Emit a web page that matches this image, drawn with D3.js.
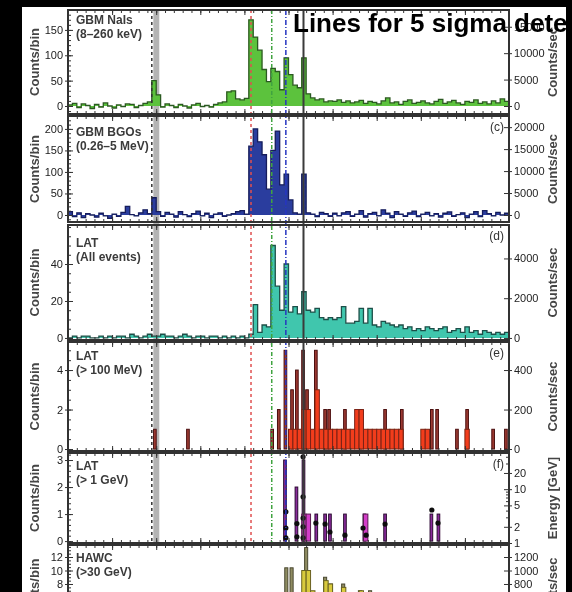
<!DOCTYPE html>
<html>
<head>
<meta charset="utf-8">
<script src="https://cdn.jsdelivr.net/npm/d3@7"></script>
<style>
  html, body { margin: 0; padding: 0; background: #000; }
  svg { display: block; }
</style>
</head>
<body>
<div id="chart"></div>
<script>
// 1 s bins, first bin starts at t = -20 s
const binStart = -20;

const naiCounts = [
  2, 5, -3, 4, 1, -5, 3, -2, 6, 0,
  -4, 2, -1, 4, 3, -3, 1, 5, 8, 50,
  22, -2, 4, 1, -3, 3, 0, -4, 2, 5,
  -1, 1, -2, 3, 6, 8, 28, 30, 14, 12,
  15, 170, 136, 110, 72, 48, 74, 68, 32, 95,
  62, 41, 36, 95, 24, 16, 12, 14, 8, 10,
  9, 12, 7, 10, 6, 8, 11, 5, 9, 7,
  4, 10, 16, 6, 8, 3, 9, 12, 5, 7,
  10, 6, 4, 9, 13, 5, 8, 11, 6, 3,
  9, 7, 12, 5, 8, 4, 10, 6, 14, 9
];

const bgoCounts = [
  8, -4, 5, -6, 3, 0, -5, 4, -2, -8,
  2, -3, 6, 20, 1, -2, 5, 12, 3, 40,
  8, -3, 6, 2, -5, 8, 1, -4, 3, 9,
  -2, 4, -6, 2, 5, -3, 0, 3, 8, 10,
  2, 160, 200, 170, 140, 60, 150, 195, 70, 95,
  35, 5, 2, 95, 5, 2, -4, 6, 3, -3,
  4, -2, 5, 8, -3, 2, 10, -5, 3, 6,
  -2, 12, 4, -6, 8, 2, -3, 5, 9, -4,
  2, 6, -2, 3, -5, 4, 7, -3, 1, 5,
  -6, 2, 8, -4, 10, 3, -2, 6, 0, 4
];

const latAllCounts = [
  0, 1, 0, 1, 1, 0, 0, 1, 0, 1,
  0, 1, 1, 0, 2, 1, 0, 1, 2, 1,
  1, 2, 1, 1, 0, 1, 2, 1, 0, 1,
  1, 0, 1, 1, 0, 1, 0, 1, 0, 1,
  0, 2, 18, 3, 7, 6, 50, 28, 15, 40,
  14, 17, 13, 25, 15, 14, 16, 11, 10, 11,
  10, 11, 17, 8, 8, 9, 16, 8, 16, 7,
  6, 9, 8, 7, 6, 7, 5, 6, 4, 5,
  4, 6, 5, 4, 5, 6, 3, 4, 5, 3,
  6, 3, 4, 2, 4, 3, 2, 3, 2, 3
];

// LAT > 100 MeV: narrow bins (dark) and 1 s bins (red)
const lat100SpikeTimes = [-0.3, 7.2, 26.3, 27.8, 29.3, 30.8, 31.9, 33.3, 34.2, 36.2, 38.3, 39.2, 42.8, 46.4, 51.9, 55.7, 62.5, 63.7, 68.2, 70.5, 76.4, 79.3];
const lat100SpikeCounts = [1, 1, 1, 2, 5, 3, 4, 5, 3, 5, 2, 2, 2, 2, 2, 2, 2, 2, 1, 2, 1, 1];
const lat100BinTimes = [30, 31, 32, 33, 34, 35, 36, 37, 38, 39, 40, 41, 42, 43, 44, 45, 46, 47, 48, 49, 50, 51, 52, 53, 54, 55, 60, 61, 70];
const lat100BinCounts = [1, 1, 1, 2, 2, 1, 3, 1, 1, 1, 1, 1, 1, 1, 1, 2, 2, 1, 1, 1, 1, 1, 1, 1, 1, 1, 1, 1, 1];

// LAT > 1 GeV
const lat1SpikeTimes = [29.2, 31.8, 33.4, 36.3, 38.3, 39.4, 42.8, 47.2, 51.9, 62.4, 64.0];
const lat1SpikeCounts = [3, 2, 3, 1, 1, 1, 1, 1, 1, 1, 1];
const lat1BinTimes = [33, 34, 47];
const lat1BinCounts = [1, 1, 1];
const photonTimes = [29.4, 29.4, 29.4, 31.9, 31.9, 33.3, 33.3, 33.3, 33.3, 33.3, 36.2, 38.3, 39.4, 42.8, 46.9, 47.6, 51.9, 62.5, 63.9];
const photonEnergies = [3.8, 1.9, 1.25, 2.3, 1.3, 40, 7.2, 2.9, 2.0, 1.25, 2.35, 2.25, 1.6, 1.4, 1.9, 1.4, 2.25, 4.1, 2.35];

// HAWC
const hawcSpikeTimes = [29.5, 30.7, 34.0, 38.3, 39.6, 42.4, 46.2, 48.5];
const hawcSpikeCounts = [10.4, 10.4, 13.4, 9, 8, 8, 7, 7];
const hawcBinTimes = [33, 34, 35, 38, 39, 42, 46, 47, 48];
const hawcBinCounts = [10, 10, 7, 8.5, 8, 7.5, 7, 6.5, 6.5];

// trigger, 5 sigma lines
const markerTimes = [-1.0, 21.5, 26.2, 29.4, 33.4];
const markerColors = ['#333', '#e05050', '#3fa33f', '#2636c0', '#3a3a3a'];
const markerDash = ['3,3', '3,3', '4,2,1,2', '5,2,1,2', null];
const triggerBand = [-0.65, 0.7];

const W = 572, H = 592;
const x0 = 68, x1 = 509;
const font = 'Liberation Sans, Arial, sans-serif';
const fmt = d3.format('d');
const x = d3.scaleLinear().domain([-20, 80]).range([x0, x1]);

const svg = d3.select('#chart').append('svg').attr('width', W).attr('height', H);
svg.append('rect').attr('width', W).attr('height', H).attr('fill', '#000');
svg.append('rect').attr('x', 22).attr('y', 7).attr('width', 544).attr('height', H - 7).attr('fill', '#fff');

const defs = svg.append('defs');
defs.append('filter').attr('id', 'soft')
    .append('feGaussianBlur').attr('stdDeviation', 0.55);
defs.append('clipPath').attr('id', 'page')
    .append('rect').attr('x', 22).attr('y', 7).attr('width', 544).attr('height', H - 7);

const root = svg.append('g').attr('clip-path', 'url(#page)')
    .append('g').attr('filter', 'url(#soft)');

function stepHist(g, y, counts, fill, stroke) {
    const pts = counts.map((v, i) => [binStart + i, v]);
    pts.push([binStart + counts.length, counts[counts.length - 1]]);
    g.append('path').datum(pts)
        .attr('d', d3.area().x(d => x(d[0])).y0(y(0)).y1(d => y(d[1])).curve(d3.curveStepAfter))
        .attr('fill', fill);
    g.append('path').datum(pts)
        .attr('d', d3.line().x(d => x(d[0])).y(d => y(d[1])).curve(d3.curveStepAfter))
        .attr('fill', 'none')
        .attr('stroke', stroke)
        .attr('stroke-width', 1.3);
}

// bars centred on t (spikes) or starting at t (1 s bins)
function bars(g, y, times, counts, width, centred, fill, stroke) {
    g.selectAll(null).data(times).enter().append('rect')
        .attr('x', (t) => x(centred ? t - width / 2 : t))
        .attr('width', (t) => x(t + width) - x(t))
        .attr('y', (t, i) => y(counts[i]))
        .attr('height', (t, i) => y(0) - y(counts[i]))
        .attr('fill', fill)
        .attr('stroke', stroke)
        .attr('stroke-width', 1);
}

const panels = [
    { top: 10, bottom: 114, domain: [-15.8, 189.3], rate: 96,
      ticks: [0, 50, 100, 150], minor: d3.range(-10, 190, 10), rateTicks: [0, 5000, 10000, 15000],
      label: ['GBM NaIs', '(8–260 keV)'], labelY: 24, tag: '', rTitle: 'Counts/sec',
      draw: (g, y) => stepHist(g, y, naiCounts, '#5cc23c', '#2c5a20') },
    { top: 116, bottom: 222, domain: [-16.3, 230], rate: 98,
      ticks: [0, 50, 100, 150, 200], minor: d3.range(-10, 230, 10), rateTicks: [0, 5000, 10000, 15000, 20000],
      label: ['GBM BGOs', '(0.26–5 MeV)'], labelY: 136, tag: '(c)', rTitle: 'Counts/sec',
      draw: (g, y) => stepHist(g, y, bgoCounts, '#2b3d9e', '#161e5c') },
    { top: 225, bottom: 340, domain: [-1.1, 61.1], rate: 93,
      ticks: [0, 20, 40], minor: d3.range(0, 61, 5), rateTicks: [0, 2000, 4000],
      label: ['LAT', '(All events)'], labelY: 247, tag: '(d)', rTitle: 'Counts/sec',
      draw: (g, y) => stepHist(g, y, latAllCounts, '#3fc6ad', '#1f4f48') },
    { top: 342, bottom: 451, domain: [-0.1, 5.42], rate: 100,
      ticks: [0, 2, 4], minor: d3.range(0, 5.5, 0.5), rateTicks: [0, 200, 400],
      label: ['LAT', '(> 100 MeV)'], labelY: 360, tag: '(e)', rTitle: 'Counts/sec',
      draw: (g, y) => {
          bars(g, y, lat100SpikeTimes, lat100SpikeCounts, 0.6, true, '#9c3a32', '#4a1010');
          bars(g, y, lat100BinTimes, lat100BinCounts, 1, false, '#f23c1c', '#7a2414');
      } },
    { top: 453, bottom: 543, domain: [-0.07, 3.26], log: [1, 47],
      ticks: [0, 1, 2, 3], minor: d3.range(0, 3.3, 0.2), rateTicks: [1, 2, 5, 10, 20],
      label: ['LAT', '(> 1 GeV)'], labelY: 470, tag: '(f)', rTitle: 'Energy [GeV]',
      draw: (g, y, r) => {
          bars(g, y, lat1SpikeTimes, lat1SpikeCounts, 0.6, true, '#8a2c9c', '#2a0a30');
          bars(g, y, lat1BinTimes, lat1BinCounts, 1, false, '#d23cc8', '#5a1a50');
          g.selectAll(null).data(photonTimes).enter().append('circle')
              .attr('cx', t => x(t))
              .attr('cy', (t, i) => r(photonEnergies[i]))
              .attr('r', 2.6)
              .attr('fill', '#111');
      } },
    { top: 545, bottom: 640, domain: [-0.3, 13.78], rate: 100,
      ticks: [8, 10, 12], minor: d3.range(6.5, 14, 0.5), rateTicks: [800, 1000, 1200],
      label: ['HAWC', '(>30 GeV)'], labelY: 562, tag: '', rTitle: 'Counts/sec',
      draw: (g, y) => {
          bars(g, y, hawcSpikeTimes, hawcSpikeCounts, 0.7, true, '#8f8c62', '#4a4830');
          bars(g, y, hawcBinTimes, hawcBinCounts, 1, false, '#d8ca3c', '#6a6220');
      } }
];

function styleAxis(sel) {
    sel.select('.domain').remove();
    sel.selectAll('line').attr('stroke', '#333').attr('stroke-width', 1);
    sel.selectAll('text')
        .attr('font-family', font)
        .attr('font-size', 11)
        .attr('fill', '#222');
}

// trigger band under everything
root.append('rect')
    .attr('x', x(triggerBand[0]))
    .attr('y', 10)
    .attr('width', x(triggerBand[1]) - x(triggerBand[0]))
    .attr('height', 533)
    .attr('fill', '#b4b4b4');

panels.forEach((p, k) => {
    const y = d3.scaleLinear().domain(p.domain).range([p.bottom, p.top]);
    const r = p.log
        ? d3.scaleLog().domain(p.log).range([p.bottom, p.top])
        : d3.scaleLinear().domain(p.domain.map(v => v * p.rate)).range([p.bottom, p.top]);

    defs.append('clipPath').attr('id', 'clip' + k)
        .append('rect').attr('x', x0).attr('y', p.top).attr('width', x1 - x0).attr('height', p.bottom - p.top);
    const plot = root.append('g').attr('clip-path', `url(#clip${k})`);
    p.draw(plot, y, r);

    // left axis
    root.append('g').attr('transform', `translate(${x0},0)`)
        .call(d3.axisLeft(y).tickValues(p.ticks).tickFormat(fmt).tickSize(3).tickPadding(2)).call(styleAxis);
    root.append('g').attr('transform', `translate(${x0},0)`)
        .call(d3.axisLeft(y).tickValues(p.ticks).tickSize(-5).tickFormat('')).call(styleAxis);
    root.append('g').attr('transform', `translate(${x0},0)`)
        .call(d3.axisLeft(y).tickValues(p.minor).tickSize(-3).tickFormat('')).call(styleAxis);

    // right axis
    root.append('g').attr('transform', `translate(${x1},0)`)
        .call(d3.axisRight(r).tickValues(p.rateTicks).tickFormat(fmt).tickSize(3).tickPadding(2)).call(styleAxis);
    root.append('g').attr('transform', `translate(${x1},0)`)
        .call(d3.axisRight(r).tickValues(p.rateTicks).tickSize(-5).tickFormat('')).call(styleAxis);
    if (p.log) {
        root.append('g').attr('transform', `translate(${x1},0)`)
            .call(d3.axisRight(r).tickValues([3, 4, 6, 7, 8, 9, 30, 40]).tickSize(-3).tickFormat('')).call(styleAxis);
    }

    // time ticks on top and bottom
    root.append('g').attr('transform', `translate(0,${p.bottom})`)
        .call(d3.axisBottom(x).tickValues(d3.range(-20, 81, 10)).tickSize(-5).tickFormat('')).call(styleAxis);
    root.append('g').attr('transform', `translate(0,${p.bottom})`)
        .call(d3.axisBottom(x).tickValues(d3.range(-20, 81, 2)).tickSize(-3).tickFormat('')).call(styleAxis);
    root.append('g').attr('transform', `translate(0,${p.top})`)
        .call(d3.axisTop(x).tickValues(d3.range(-20, 81, 10)).tickSize(-5).tickFormat('')).call(styleAxis);
    root.append('g').attr('transform', `translate(0,${p.top})`)
        .call(d3.axisTop(x).tickValues(d3.range(-20, 81, 2)).tickSize(-3).tickFormat('')).call(styleAxis);

    // panel text
    const lab = root.append('text')
        .attr('x', 76)
        .attr('y', p.labelY)
        .attr('font-family', font)
        .attr('font-size', 12)
        .attr('font-weight', 'bold')
        .attr('fill', '#3a3a3a');
    lab.append('tspan').attr('x', 76).text(p.label[0]);
    lab.append('tspan').attr('x', 76).attr('dy', 14).text(p.label[1]);

    if (p.tag) {
        root.append('text')
            .attr('x', 504)
            .attr('y', p.top + 15)
            .attr('text-anchor', 'end')
            .attr('font-family', font)
            .attr('font-size', 12)
            .attr('fill', '#333')
            .text(p.tag);
    }

    const mid = (p.top + p.bottom) / 2;
    root.append('text')
        .attr('transform', `translate(39,${mid}) rotate(-90)`)
        .attr('text-anchor', 'middle')
        .attr('font-family', font)
        .attr('font-size', 13)
        .attr('font-weight', 'bold')
        .attr('fill', '#444')
        .text('Counts/bin');
    root.append('text')
        .attr('transform', `translate(557,${mid}) rotate(-90)`)
        .attr('text-anchor', 'middle')
        .attr('font-family', font)
        .attr('font-size', 13)
        .attr('font-weight', 'bold')
        .attr('fill', '#444')
        .text(p.rTitle);
});

// vertical marker lines through the Fermi panels
root.selectAll(null).data(markerTimes).enter().append('line')
    .attr('x1', t => x(t))
    .attr('x2', t => x(t))
    .attr('y1', 10)
    .attr('y2', 543)
    .attr('stroke', (t, i) => markerColors[i])
    .attr('stroke-width', (t, i) => i === 4 ? 2 : 1.5)
    .attr('stroke-dasharray', (t, i) => markerDash[i]);

// panel frames
panels.forEach(p => {
    root.append('rect')
        .attr('x', x0)
        .attr('y', p.top)
        .attr('width', x1 - x0)
        .attr('height', p.bottom - p.top)
        .attr('fill', 'none')
        .attr('stroke', '#333')
        .attr('stroke-width', 2);
});

svg.append('text')
    .attr('x', 293)
    .attr('y', 32)
    .attr('font-family', font)
    .attr('font-size', 26)
    .attr('font-weight', 'bold')
    .attr('fill', '#000')
    .text('Lines for 5 sigma detection');
</script>
</body>
</html>
